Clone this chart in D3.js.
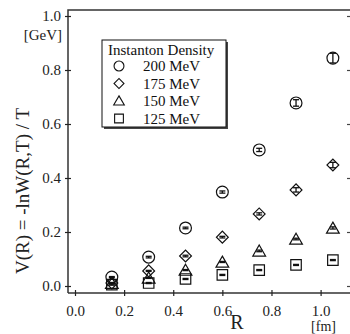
<!DOCTYPE html>
<html>
<head>
<meta charset="utf-8">
<script src="https://cdn.jsdelivr.net/npm/d3@7"></script>
<style>
  body { margin: 0; background: #fff; }
  svg { display: block; font-family: "Liberation Serif", "Times New Roman", serif; }
</style>
</head>
<body>
<div id="chart"></div>
<script>
"use strict"

// data
const R = [0.15, 0.30, 0.45, 0.60, 0.75, 0.90, 1.05];
const labels = ["200 MeV", "175 MeV", "150 MeV", "125 MeV"];
const shapes = ["circle", "diamond", "triangle", "square"];
const v200 = [0.033, 0.107, 0.215, 0.348, 0.504, 0.678, 0.844];
const v175 = [0.011, 0.056, 0.111, 0.181, 0.267, 0.356, 0.448];
const v150 = [0.010, 0.030, 0.059, 0.089, 0.130, 0.174, 0.215];
const v125 = [0.005, 0.011, 0.026, 0.041, 0.059, 0.078, 0.096];
const e200 = [0.002, 0.003, 0.003, 0.004, 0.006, 0.012, 0.018];
const e175 = [0.002, 0.002, 0.003, 0.003, 0.004, 0.008, 0.010];
const e150 = [0.002, 0.002, 0.002, 0.002, 0.003, 0.003, 0.004];
const e125 = [0.002, 0.002, 0.002, 0.002, 0.002, 0.002, 0.002];
const xTicks = [0.0, 0.2, 0.4, 0.6, 0.8, 1.0];
const yTicks = [0.0, 0.2, 0.4, 0.6, 0.8, 1.0];

const series = [v200, v175, v150, v125].map((vals, i) => ({
  label: labels[i],
  shape: shapes[i],
  points: R.map((r, j) => ({r: r, v: vals[j], e: [e200, e175, e150, e125][i][j]}))
}));

const W = 350, H = 334;
const pLeft = 68, pRight = 350, pTop = 10, pBottom = 293;

const x = d3.scaleLinear().domain([0, 1]).range([75, 320.6]);
const y = d3.scaleLinear().domain([0, 1]).range([286, 16]);

const svg = d3.select('#chart').append('svg')
  .attr('width', W).attr('height', H);

const symType = {
  circle: d3.symbolCircle, diamond: d3.symbolSquare,
  triangle: d3.symbolTriangle, square: d3.symbolSquare
};
const symSize = {circle: 110, diamond: 70, triangle: 70, square: 110};
const sym = (s, k = 1) => d3.symbol().type(symType[s]).size(symSize[s] * k)();
const rot = (s) => s == 'diamond' ? ' rotate(45)' : '';
const dy = (s) => s == 'triangle' ? 1.5 : 0;

// frame
svg.append('path')
  .attr('d', `M${pLeft},${pBottom}V${pTop}H${pRight}`)
  .attr('fill', 'none').attr('stroke', '#333').attr('stroke-width', 1.5);
svg.append('line')
  .attr('x1', pLeft).attr('x2', pRight).attr('y1', pBottom).attr('y2', pBottom)
  .attr('stroke', '#333').attr('stroke-width', 1.5);

// axes
let xa = svg.append('g')
  .attr('transform', `translate(0,${pBottom})`)
  .call(d3.axisBottom(x).tickValues(xTicks).tickFormat(d3.format('.1f')).tickSize(3).tickPadding(9));
xa.select('.domain').remove();
xa.selectAll('line').attr('y1', -3).attr('stroke', '#222').attr('stroke-width', 1.2);
xa.selectAll('text').attr('font-size', 15).attr('font-family', 'Liberation Serif').attr('fill', '#222');

let ya = svg.append('g')
  .attr('transform', `translate(${pLeft},0)`)
  .call(d3.axisLeft(y).tickValues(yTicks).tickFormat(d3.format('.1f')).tickSize(3).tickPadding(4));
ya.select('.domain').remove();
ya.selectAll('line').attr('x1', 3).attr('stroke', '#222').attr('stroke-width', 1.2);
ya.selectAll('text').attr('font-size', 15).attr('font-family', 'Liberation Serif').attr('fill', '#222');

let yr = svg.append('g')
  .attr('transform', `translate(${pRight},0)`)
  .call(d3.axisRight(y).tickValues(yTicks).tickFormat('').tickSize(-3));
yr.select('.domain').remove();
yr.selectAll('line').attr('stroke', '#444').attr('stroke-width', 1.2);

// axis titles
svg.append('text')
  .attr('x', 62).attr('y', 40).attr('text-anchor', 'end')
  .attr('font-size', 15).attr('fill', '#222').text('[GeV]');
svg.append('text')
  .attr('transform', `translate(29,${191}) rotate(-90)`)
  .attr('text-anchor', 'middle').attr('font-size', 19).attr('fill', '#222')
  .text('V(R) = -lnW(R,T) / T');
svg.append('text')
  .attr('x', 237).attr('y', 329).attr('text-anchor', 'middle')
  .attr('font-size', 20).attr('fill', '#222').text('R');
svg.append('text')
  .attr('x', 336).attr('y', 331).attr('text-anchor', 'end')
  .attr('font-size', 14).attr('fill', '#222').text('[fm]');

// data points
series.forEach((s) => {
  let g = svg.append('g');
  let pts = g.selectAll('g.pt').data(s.points).enter().append('g')
    .attr('class', 'pt');
  pts.append('path')
    .attr('d', sym(s.shape))
    .attr('transform', (d) => `translate(${x(d.r)},${y(d.v) + dy(s.shape)})${rot(s.shape)}`)
    .attr('fill', 'none').attr('stroke', '#111').attr('stroke-width', 1.2);
  // error bars
  pts.append('line')
    .attr('x1', (d) => x(d.r)).attr('x2', (d) => x(d.r))
    .attr('y1', (d) => y(d.v - d.e)).attr('y2', (d) => y(d.v + d.e))
    .attr('stroke', '#111').attr('stroke-width', 1.3);
  ['-', '+'].forEach((sgn) => {
    pts.append('line')
      .attr('x1', (d) => x(d.r) - 3).attr('x2', (d) => x(d.r) + 3)
      .attr('y1', (d) => y(sgn == '-' ? d.v - d.e : d.v + d.e))
      .attr('y2', (d) => y(sgn == '-' ? d.v - d.e : d.v + d.e))
      .attr('stroke', '#111').attr('stroke-width', 1.3);
  });
});

// legend
let lg = svg.append('g');
lg.append('rect').attr('x', 104).attr('y', 42).attr('width', 124).attr('height', 87).attr('fill', '#444');
lg.append('rect').attr('x', 102).attr('y', 40).attr('width', 124).attr('height', 87)
  .attr('fill', '#fff').attr('stroke', '#111').attr('stroke-width', 1);
lg.append('text').attr('x', 108).attr('y', 55).attr('font-size', 15).attr('fill', '#111')
  .text('Instanton Density');
series.forEach((s, i) => {
  let cy = 66 + i * 17.5;
  lg.append('path').attr('d', sym(s.shape, 0.7))
    .attr('transform', `translate(119,${cy + (s.shape == 'triangle' ? 1 : 0)})${rot(s.shape)}`)
    .attr('fill', 'none').attr('stroke', '#111').attr('stroke-width', 1.1);
  lg.append('text').attr('x', 143).attr('y', cy + 5).attr('font-size', 15).attr('fill', '#111')
    .text(s.label);
});
</script>
</body>
</html>
